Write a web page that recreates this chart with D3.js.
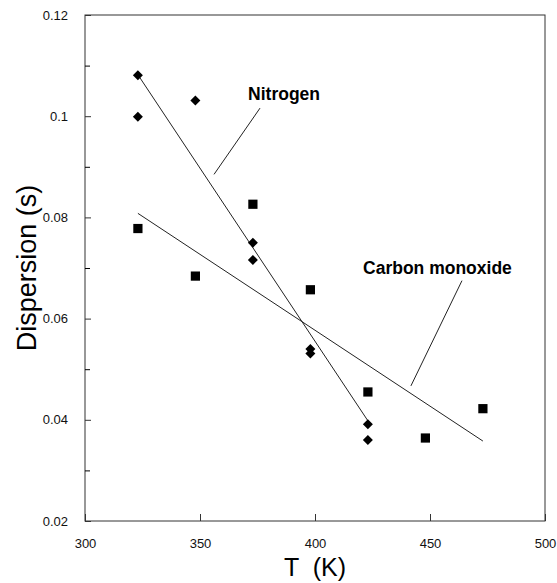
<!DOCTYPE html>
<html>
<head>
<meta charset="utf-8">
<script src="https://cdn.jsdelivr.net/npm/d3@7"></script>
<style>
  body { margin: 0; background: #fff; }
  svg { font-family: "Liberation Sans", Arial, sans-serif; }
</style>
</head>
<body>
<svg id="chart" width="557" height="583"></svg>
<script>
/* Dispersion vs temperature, nitrogen (diamonds) and carbon monoxide (squares) */

// temperatures (K) and dispersion (s)
const nitrogenT = [323, 323, 348, 373, 373, 398, 398, 423, 423];
const nitrogenD = [0.1081, 0.0999, 0.1031, 0.0750, 0.0716, 0.0540, 0.0531, 0.0391, 0.0360];

const coT = [323, 348, 373, 398, 423, 448, 473];
const coD = [0.0778, 0.0684, 0.0826, 0.0657, 0.0455, 0.0364, 0.0422];

// fitted lines as drawn (end points)
const nitrogenFit = [[323, 0.1082], [423, 0.0398]];
const coFit = [[323, 0.0808], [473, 0.0358]];

// labels and their leader lines
const labels = [
  { text: "Nitrogen", T: 370.9, D: 0.1032, leader: [[376.1, 0.1016], [356.1, 0.0885]] },
  { text: "Carbon monoxide", T: 420.9, D: 0.0689, leader: [[463.9, 0.0675], [441.7, 0.0467]] }
];

const xTicks = [300, 350, 400, 450, 500];
const yTicks = [0.02, 0.04, 0.06, 0.08, 0.1, 0.12];
const yMinor = [0.03, 0.05, 0.07, 0.09, 0.11];

const margin = { top: 15, left: 85, right: 12, bottom: 62 },
  width = 557 - margin.left - margin.right,
  height = 583 - margin.top - margin.bottom;

const svg = d3.select("#chart");
const g = svg.append("g").attr("transform", `translate(${margin.left},${margin.top})`);

const x = d3.scaleLinear().domain([300, 500]).range([0, width]);
const y = d3.scaleLinear().domain([0.02, 0.12]).range([height, 0]);

// frame
g.append("rect")
  .attr("x", 0).attr("y", 0)
  .attr("width", width).attr("height", height)
  .attr("fill", "none")
  .attr("stroke", "#333")
  .attr("stroke-width", 1);

// axes, ticks point inward
const xAxis = g.append("g")
  .attr("transform", `translate(0,${height})`)
  .call(d3.axisBottom(x).tickValues(xTicks).tickSize(-7).tickPadding(18).tickFormat(d3.format("d")));

const yAxis = g.append("g")
  .call(d3.axisLeft(y).tickValues(yTicks).tickSize(-6).tickPadding(17).tickFormat(d => d === 0.1 ? "0.1" : d3.format(".2f")(d)));

g.append("g")
  .call(d3.axisLeft(y).tickValues(yMinor).tickSize(-5).tickFormat(""))
  .call(a => a.select(".domain").remove());

[xAxis, yAxis].forEach(a => {
  a.select(".domain").remove();
  a.selectAll("text").attr("font-size", 13).attr("fill", "#111").style("font-family", "Liberation Sans, Arial, sans-serif");
  a.selectAll("line").attr("stroke", "#333");
});

// fitted lines
const line = d3.line().x(d => x(d[0])).y(d => y(d[1]));
[nitrogenFit, coFit].forEach(f => {
  g.append("path")
    .attr("d", line(f))
    .attr("fill", "none")
    .attr("stroke", "#222")
    .attr("stroke-width", 1);
});

// markers
const nitrogen = nitrogenT.map((t, i) => ({ t: t, d: nitrogenD[i] }));
const co = coT.map((t, i) => ({ t: t, d: coD[i] }));

g.selectAll(".diamond")
  .data(nitrogen)
  .join("path")
  .attr("class", "diamond")
  .attr("d", d3.symbol(d3.symbolSquare, 50))
  .attr("transform", d => `translate(${x(d.t)},${y(d.d)}) rotate(45)`)
  .attr("fill", "#000");

g.selectAll(".square")
  .data(co)
  .join("path")
  .attr("class", "square")
  .attr("d", d3.symbol(d3.symbolSquare, 85))
  .attr("transform", d => `translate(${x(d.t)},${y(d.d)})`)
  .attr("fill", "#000");

// labels with leader lines
labels.forEach(l => {
  g.append("text")
    .attr("x", x(l.T))
    .attr("y", y(l.D))
    .attr("font-size", 17.5)
    .attr("font-weight", "bold")
    .attr("fill", "#000")
    .text(l.text);
  g.append("path")
    .attr("d", line(l.leader))
    .attr("fill", "none")
    .attr("stroke", "#222")
    .attr("stroke-width", 1);
});

// axis titles
svg.append("text")
  .attr("x", margin.left + x(400))
  .attr("y", 576)
  .attr("text-anchor", "middle")
  .attr("font-size", 25)
  .attr("fill", "#000")
  .attr("xml:space", "preserve")
  .style("white-space", "pre")
  .text("T  (K)");

svg.append("text")
  .attr("transform", `translate(36,${margin.top + y(0.07)}) rotate(-90)`)
  .attr("text-anchor", "middle")
  .attr("font-size", 27)
  .attr("fill", "#000")
  .text("Dispersion (s)");
</script>
</body>
</html>
